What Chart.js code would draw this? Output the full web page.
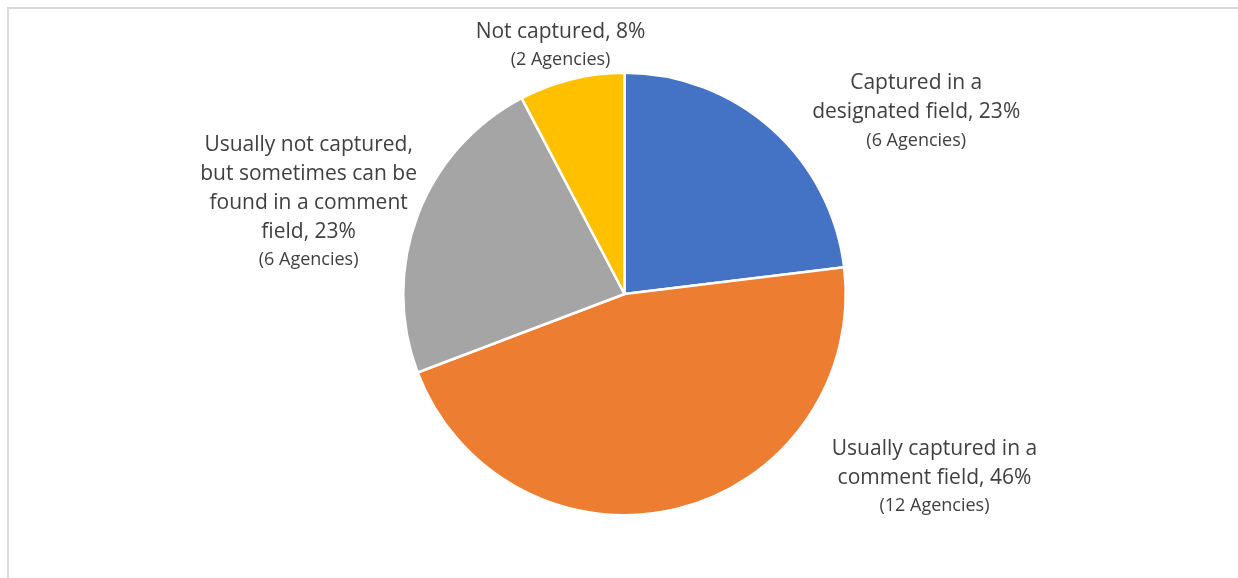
<!DOCTYPE html>
<html>
<head>
<meta charset="utf-8">
<script src="https://cdn.jsdelivr.net/npm/chart.js@4"></script>
<style>
  html, body { margin: 0; padding: 0; background: #fff; overflow: hidden; }
  .frame {
    position: absolute; left: 7px; top: 7px; width: 1300px; height: 700px;
    border-left: 2px solid #d9d9d9; border-top: 2px solid #d9d9d9;
  }
  .chart-wrapper { position: absolute; left: 0; top: 0; width: 1238px; height: 578px; }
</style>
</head>
<body>
<div class="frame"></div>
<div class="chart-wrapper"><canvas id="chart"></canvas></div>
<script>
// data
const categories = [
  'Captured in a designated field',
  'Usually captured in a comment field',
  'Usually not captured, but sometimes can be found in a comment field',
  'Not captured'
];
const agencies = [6, 12, 6, 2];
const colors = ['#4472c4', '#ed7d31', '#a5a5a5', '#ffc000'];

// how each label is broken into lines (the % is filled in)
const labelLines = [
  ['Captured in a', 'designated field, {p}'],
  ['Usually captured in a', 'comment field, {p}'],
  ['Usually not captured,', 'but sometimes can be', 'found in a comment', 'field, {p}'],
  ['Not captured, {p}']
];
// offset of the label's first line from the slice's outer midpoint
const labelOffsets = [[145, -45], [257, -60], [-109, -71], [-11, -47]];

const total = agencies.reduce((a, b) => a + b, 0);

const outsideLabels = {
  id: 'outsideLabels',
  afterDatasetsDraw(chart) {
    const ctx = chart.ctx;
    const meta = chart.getDatasetMeta(0);
    ctx.save();
    ctx.fillStyle = '#404040';
    ctx.textAlign = 'center';
    ctx.textBaseline = 'middle';
    meta.data.forEach((arc, i) => {
      const mid = (arc.startAngle + arc.endAngle) / 2;
      const x = arc.x + Math.cos(mid) * arc.outerRadius + labelOffsets[i][0];
      let y = arc.y + Math.sin(mid) * arc.outerRadius + labelOffsets[i][1];
      const pct = Math.round(agencies[i] / total * 100) + '%';
      ctx.font = '21px "Open Sans", sans-serif';
      labelLines[i].forEach((line, j) => {
        if (j > 0) y += 29;
        ctx.fillText(line.replace('{p}', pct), x, y);
      });
      y += 28;
      ctx.font = '18px "Open Sans", sans-serif';
      ctx.fillText('(' + agencies[i] + ' Agencies)', x, y);
    });
    ctx.restore();
  }
};

new Chart(document.getElementById('chart'), {
  type: 'pie',
  data: {
    labels: categories,
    datasets: [{
      data: agencies,
      backgroundColor: colors,
      borderColor: '#ffffff',
      borderWidth: 2.5
    }]
  },
  options: {
    responsive: true,
    maintainAspectRatio: false,
    animation: false,
    layout: { padding: { left: 402, right: 391, top: 71.5, bottom: 61.5 } },
    plugins: {
      legend: { display: false },
      tooltip: { enabled: false }
    }
  },
  plugins: [outsideLabels]
});
</script>
</body>
</html>
